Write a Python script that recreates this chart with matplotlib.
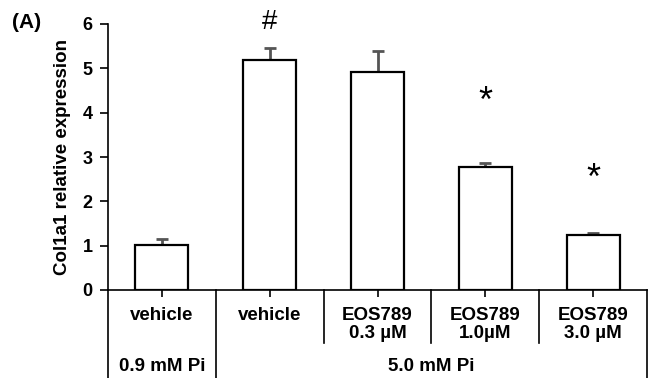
import matplotlib
matplotlib.use("Agg")
import matplotlib.pyplot as plt

plt.rcParams["font.family"] = ["Liberation Sans", "DejaVu Sans"]

# data
labels = ["vehicle", "vehicle", "EOS789\n0.3 \u00b5M", "EOS789\n1.0\u00b5M", "EOS789\n3.0 \u00b5M"]
means = [1.02, 5.19, 4.92, 2.77, 1.24]
errs = [0.12, 0.27, 0.47, 0.10, 0.04]
marks = ["", "#", "", "*", "*"]
mark_y = [None, 6.05, None, 4.22, 2.5]
groups = ["0.9 mM Pi", "5.0 mM Pi"]

fig = plt.figure(figsize=(6.51, 3.78), dpi=100)
ax = fig.add_axes([108 / 651, 88 / 378, 539 / 651, 266 / 378])

x = list(range(1, len(means) + 1))
ax.bar(x, means, width=0.49, color="white", edgecolor="black", linewidth=1.6, zorder=2)
ax.errorbar(x, means, yerr=[[0] * len(errs), errs], fmt="none", ecolor="#555555",
            elinewidth=2, capsize=4, capthick=2, zorder=1)

for xi, m, my in zip(x, marks, mark_y):
    if m == "#":
        ax.text(xi, my, m, ha="center", va="center", fontsize=20)
    elif m:
        ax.text(xi, my, m, ha="center", va="center", fontsize=26)

ax.set_xlim(0.5, 5.5)
ax.set_ylim(0, 6)
ax.set_yticks(range(7))
ax.set_xticks(x)
ax.set_xticklabels(labels, fontsize=13.5, fontweight="bold", linespacing=1.1)
ax.tick_params(axis="y", labelsize=13, width=1.2, length=6, pad=5)
ax.tick_params(axis="x", width=1.2, length=5, pad=7)
for lab in ax.get_yticklabels():
    lab.set_fontweight("bold")
ax.spines["top"].set_visible(False)
ax.spines["right"].set_visible(False)
ax.spines["left"].set_linewidth(1.2)
ax.spines["bottom"].set_linewidth(1.2)
ax.set_ylabel("Col1a1 relative expression", fontsize=13.5, fontweight="bold", labelpad=8)

# table lines under the axis
tr = ax.get_xaxis_transform()
bottom = -0.34
mid = -0.2
ax.plot([0.5, 0.5], [0, bottom], transform=tr, color="black", lw=1.2, clip_on=False)
ax.plot([1.5, 1.5], [0, bottom], transform=tr, color="black", lw=1.2, clip_on=False)
ax.plot([5.5, 5.5], [0, bottom], transform=tr, color="black", lw=1.2, clip_on=False)
for d in [2.5, 3.5, 4.5]:
    ax.plot([d, d], [0, mid], transform=tr, color="black", lw=1.2, clip_on=False)

ax.text(1, -0.286, groups[0], transform=tr, ha="center", va="center", fontsize=13.5, fontweight="bold")
ax.text(3.5, -0.286, groups[1], transform=tr, ha="center", va="center", fontsize=13.5, fontweight="bold")

fig.text(12 / 651, 1 - 22 / 378, "(A)", ha="left", va="center", fontsize=15, fontweight="bold")

fig.savefig("out.png", dpi=100)
